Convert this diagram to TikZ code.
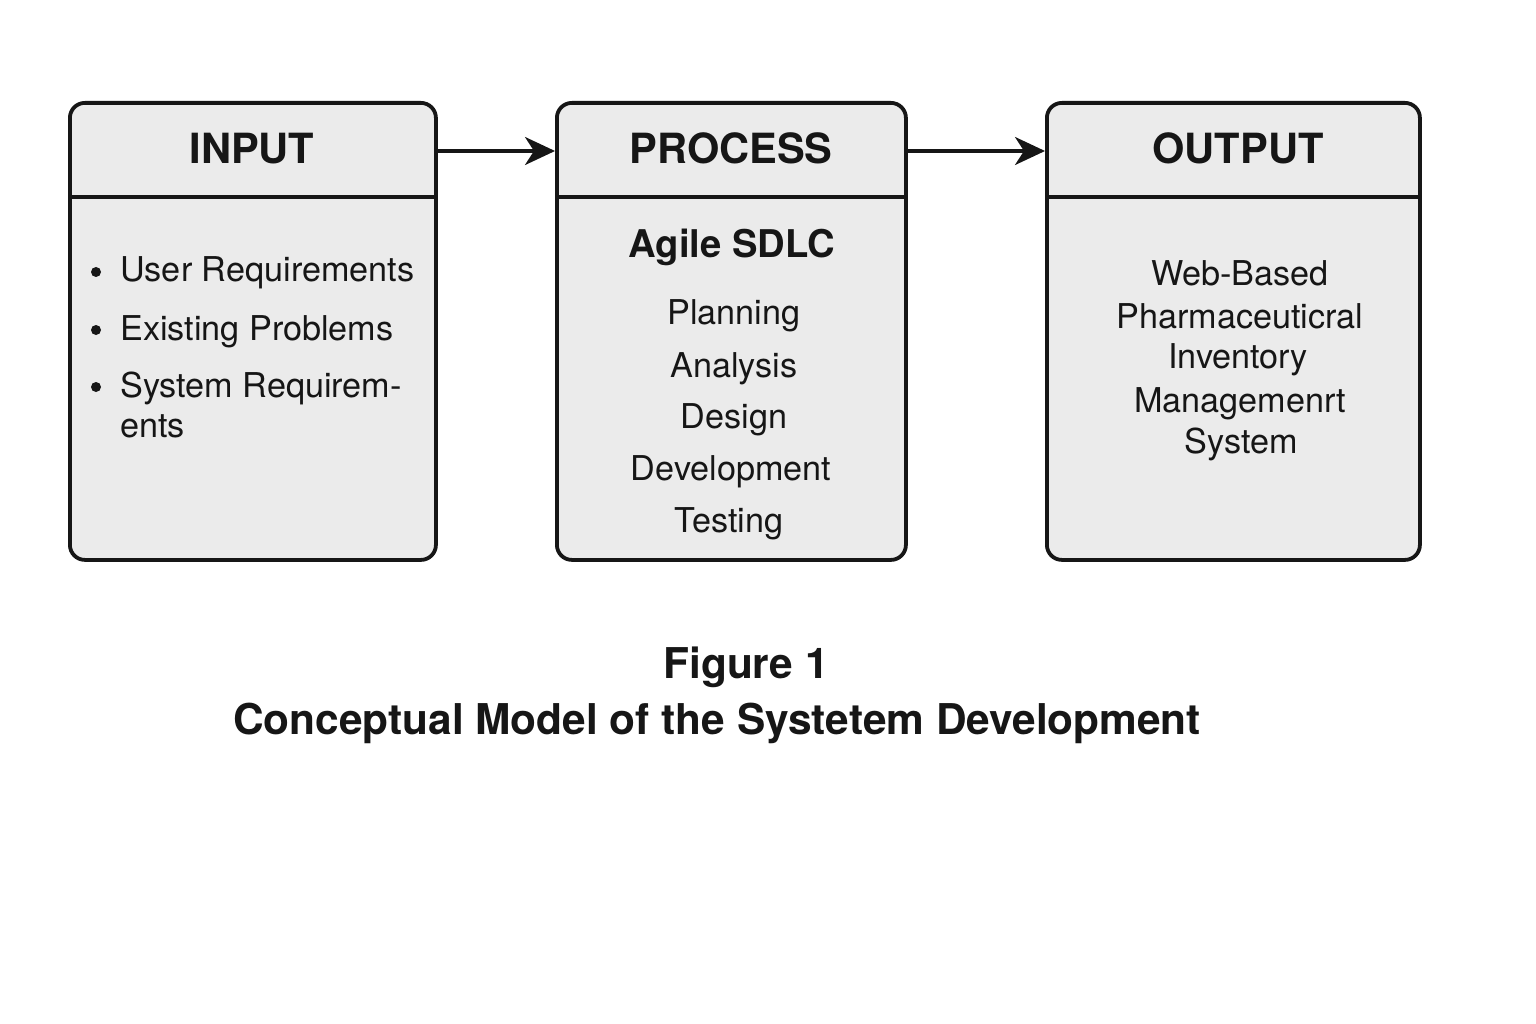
\documentclass[tikz,border=0pt]{standalone}
\usepackage{fontspec}
\setmainfont{TeX Gyre Heros}
\usetikzlibrary{arrows.meta}
\definecolor{boxfill}{HTML}{EBEBEB}
\definecolor{ink}{HTML}{161616}
\tikzset{
  panel/.style={draw=ink, line width=3.8pt, fill=boxfill, rounded corners=15pt, anchor=north west, inner sep=0pt},
  divider/.style={draw=ink, line width=3.8pt},
  flow/.style={draw=ink, line width=3.4pt, -{Stealth[length=30pt,width=28pt,inset=9pt]}},
  head/.style={font=\fontsize{41.6}{45}\selectfont\bfseries, text=ink, anchor=base, inner sep=0pt},
  sub/.style={font=\fontsize{38.2}{42}\selectfont\bfseries, text=ink, anchor=base, inner sep=0pt},
  item/.style={font=\fontsize{34.2}{38}\selectfont, text=ink, anchor=base, inner sep=0pt},
  bul/.style={circle, fill=ink, inner sep=0pt, minimum size=10pt},
  captext/.style={font=\fontsize{42.4}{46}\selectfont\bfseries, text=ink, anchor=base, inner sep=0pt}
}
\begin{document}
\begin{tikzpicture}[x=1pt,y=-1pt]
\useasboundingbox[fill=white] (0,0) rectangle (1536,1024);
% boxes
\node[panel, minimum width=366pt, minimum height=457pt] (inbox) at (68,101) {};
\node[panel, minimum width=349pt, minimum height=457pt] (procbox) at (555,101) {};
\node[panel, minimum width=373pt, minimum height=457pt] (outbox) at (1045,101) {};
% dividers
\coordinate (d) at (0,197);
\draw[divider] (inbox.west |- d) -- (inbox.east |- d);
\draw[divider] (procbox.west |- d) -- (procbox.east |- d);
\draw[divider] (outbox.west |- d) -- (outbox.east |- d);
% arrows
\coordinate (a) at (0,151);
\draw[flow] (inbox.east |- a) -- (procbox.west |- a);
\draw[flow] (procbox.east |- a) -- (outbox.west |- a);
% headers
\node[head] (hin) at (252,164) {INPUT};
\node[head] (hproc) at (731,164) {PROCESS};
\node[head] (hout) at (1238,164) {OUTPUT};
% input items
\node[bul] (b1) at (96,272) {};
\node[bul] (b2) at (96,330) {};
\node[bul] (b3) at (96,387) {};
\node[item, anchor=base west] (i1) at (120,282) {User Requirements};
\node[item, anchor=base west] (i2) at (120,340) {Existing Problems};
\node[item, anchor=base west] (i3) at (120,397) {System Requirem-};
\node[item, anchor=base west] (i4) at (120,437) {ents};
% process
\node[sub] (agile) at (732,258) {Agile SDLC};
\node[item] (p1) at (734,324) {Planning};
\node[item] (p2) at (734,377) {Analysis};
\node[item] (p3) at (734,428) {Design};
\node[item] (p4) at (731,480) {Development};
\node[item] (p5) at (729,532) {Testing};
% output
\node[item] (o1) at (1240,285) {Web-Based};
\node[item] (o2) at (1240,328) {Pharmaceuticral};
\node[item] (o3) at (1238,368) {Inventory};
\node[item] (o4) at (1240,412) {Managemenrt};
\node[item] (o5) at (1241,453) {System};
% caption
\node[captext] (f1) at (746,678) {Figure 1};
\node[captext] (f2) at (717,734) {Conceptual Model of the Systetem Development};
\end{tikzpicture}
\end{document}
